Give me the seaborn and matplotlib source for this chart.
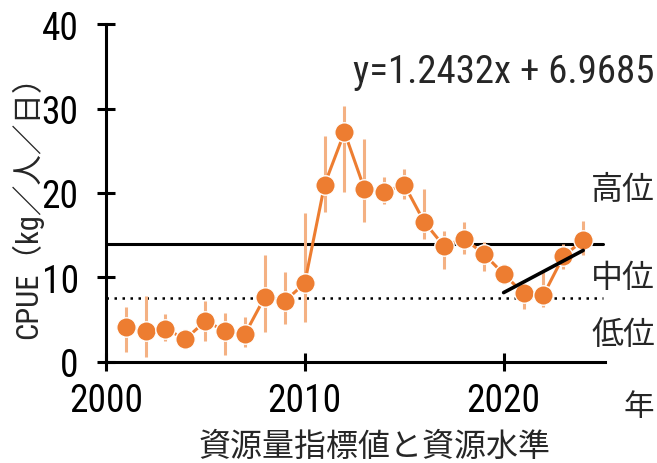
import matplotlib
matplotlib.use('Agg')
import matplotlib.pyplot as plt
from matplotlib import font_manager as fm
import seaborn as sns
import pandas as pd

years = [2001, 2002, 2003, 2004, 2005, 2006, 2007, 2008, 2009, 2010, 2011, 2012,
         2013, 2014, 2015, 2016, 2017, 2018, 2019, 2020, 2021, 2022, 2023, 2024]
cpue = [4.1, 3.7, 3.9, 2.7, 4.8, 3.7, 3.3, 7.7, 7.2, 9.3, 21.0, 27.2,
        20.5, 20.1, 21.0, 16.6, 13.7, 14.6, 12.8, 10.4, 8.1, 7.9, 12.5, 14.4]
ci_low = [1.2, 0.6, 2.5, 2.0, 2.5, 0.8, 1.8, 3.5, 4.5, 4.7, 17.7, 20.1,
          16.6, 18.7, 19.3, 14.6, 11.0, 12.8, 10.7, 9.2, 6.3, 6.5, 11.0, 12.6]
ci_high = [6.5, 7.8, 5.7, 3.4, 7.2, 5.8, 5.3, 12.6, 10.6, 17.6, 26.8, 30.3,
           26.4, 21.9, 22.8, 20.5, 15.5, 16.6, 14.2, 11.6, 9.3, 10.6, 14.0, 16.7]

high_limit = 14.0
low_limit = 7.6
trend_years = [2020, 2024]
trend_vals = [8.2, 13.2]
equation = 'y=1.2432x + 6.9685'
levels = ['高位', '中位', '低位']
level_y = [20.5, 10.0, 3.3]

df = pd.DataFrame({'year': years, 'cpue': cpue, 'lo': ci_low, 'hi': ci_high})

sns.set_style('white')

# narrow latin font if the box has one, else plain sans
installed = {f.name: f for f in fm.fontManager.ttflist}
narrow = next((n for n in ['Liberation Sans Narrow', 'Roboto Condensed',
                           'Open Sans Condensed', 'DejaVu Sans Condensed']
               if n in installed), None)
stretch = 'normal'
if narrow is None:
    cond = [f for f in fm.fontManager.ttflist
            if f.name == 'DejaVu Sans' and str(f.stretch) in ('condensed', '300')]
    narrow = 'DejaVu Sans'
    if cond:
        stretch = 'condensed'
num_font = [narrow, 'Noto Sans CJK JP']
jp_font = ['Noto Sans CJK JP', 'DejaVu Sans']
plt.rcParams['font.family'] = num_font
plt.rcParams['font.stretch'] = stretch

orange = '#ED7D31'
pale = '#F4B183'

fig = plt.figure(figsize=(6.57, 4.64), dpi=100)
ax = fig.add_axes([0.161, 0.218, 0.76, 0.728])

ax.axhline(high_limit, xmin=0, xmax=0.996, color='black', lw=2.2, zorder=1)
ax.axhline(low_limit, xmin=0, xmax=0.996, color='black', lw=1.8,
           dashes=(1, 2.2), zorder=1)

ax.vlines(df['year'], df['lo'], df['hi'], color=pale, lw=2.2, zorder=2)
sns.lineplot(data=df, x='year', y='cpue', ax=ax, color=orange, lw=2.2,
             marker='o', markersize=14, markeredgecolor='white',
             markeredgewidth=1.0, zorder=3)
ax.plot(trend_years, trend_vals, color='black', lw=2.6, zorder=4)

ax.set_xlim(2000, 2025.1)
ax.set_ylim(0, 40)
ax.set_xticks([2000, 2010, 2020])
ax.set_yticks([0, 10, 20, 30, 40])
ax.set_xlabel('')
ax.set_ylabel('')
for s in ['top', 'right']:
    ax.spines[s].set_visible(False)
for s in ['left', 'bottom']:
    ax.spines[s].set_linewidth(2.2)
    ax.spines[s].set_color('black')
ax.tick_params(axis='both', direction='inout', length=13, width=2.2,
               labelsize=27, colors='black', bottom=True, left=True)
ax.tick_params(axis='y', pad=13)
ax.tick_params(axis='x', pad=8)

ax.text(2012.45, 34.4, equation, fontsize=28, family=num_font, va='center')

for lab, yv in zip(levels, level_y):
    ax.text(2026.0, yv, lab, fontsize=23, family=jp_font, va='center', ha='center')

fig.text(639 / 657, 1 - 408 / 464, '年', fontsize=22, family=jp_font,
         ha='center', va='center')
fig.text(375 / 657, 1 - 447 / 464, '資源量指標値と資源水準', fontsize=23,
         family=jp_font, ha='center', va='center')
fig.text(27 / 657, 1 - 200 / 464, 'CPUE（kg／人／日）', fontsize=22,
         family=num_font, rotation=90, ha='center', va='center')

fig.savefig('out.png', dpi=100)
